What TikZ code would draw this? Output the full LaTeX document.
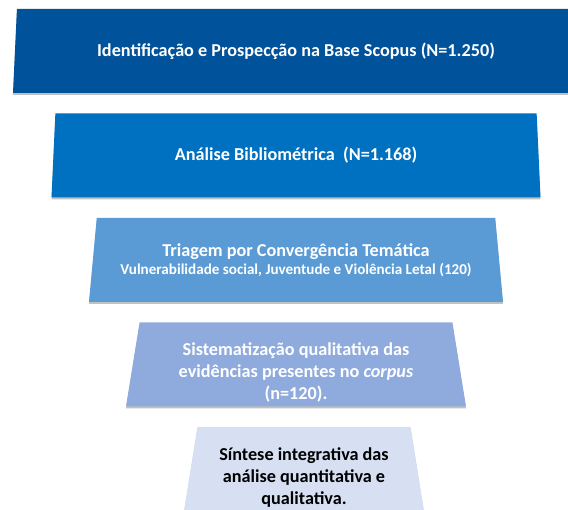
\documentclass[tikz,border=0pt]{standalone}
\usepackage{fontspec}
\setmainfont{Carlito}
\usepackage{tikz}
\usetikzlibrary{positioning}
\usetikzlibrary{shapes.geometric,shadows}

\definecolor{stageA}{RGB}{0,82,155}
\definecolor{stageB}{RGB}{0,112,192}
\definecolor{stageC}{RGB}{91,155,213}
\definecolor{stageD}{RGB}{143,170,220}
\definecolor{stageE}{RGB}{214,224,242}

\begin{document}
\begin{tikzpicture}[x=1pt, y=1pt, node distance=104.5pt,
    stage/.style={trapezium, trapezium stretches body,
      trapezium left angle=76.6, trapezium right angle=76.6,
      minimum height=84pt, inner sep=0pt, align=center, text=white,
      font=\bfseries\fontsize{18.2}{21.5}\selectfont,
      drop shadow={shadow xshift=0pt, shadow yshift=-2pt, opacity=0.35, fill=black!70}}]
    \useasboundingbox (0,0) rectangle (568,-510);

    % Stages
    \node [stage, fill=stageA, minimum width=566pt] (ident) at (296,-51)
        {Identificação e Prospecção na Base Scopus (N=1.250)};
    \node [stage, fill=stageB, minimum width=489pt, below of=ident] (biblio)
        {Análise Bibliométrica\ \ (N=1.168)};
    \node [stage, fill=stageC, minimum width=414pt, below of=biblio] (triagem)
        {Triagem por Convergência Temática\\[-4pt]
         {\fontsize{15.1}{17}\selectfont Vulnerabilidade social, Juventude e Violência Letal (120)}};
    \node [stage, fill=stageD, minimum width=340pt, below of=triagem] (sistem)
        {\raisebox{-7pt}[\height][0pt]{\shortstack{Sistematização qualitativa das\\[3pt]
         evidências presentes no \textit{corpus}\\[3pt]
         (n=120).}}};
    \node [stage, fill=stageE, minimum width=240pt, text=black,
        below of=sistem, xshift=8pt] (sintese)
        {\raisebox{-7pt}[\height][0pt]{\shortstack{Síntese integrativa das\\[3pt]
         análise quantitativa e\\[3pt]
         qualitativa.}}};
\end{tikzpicture}
\end{document}
